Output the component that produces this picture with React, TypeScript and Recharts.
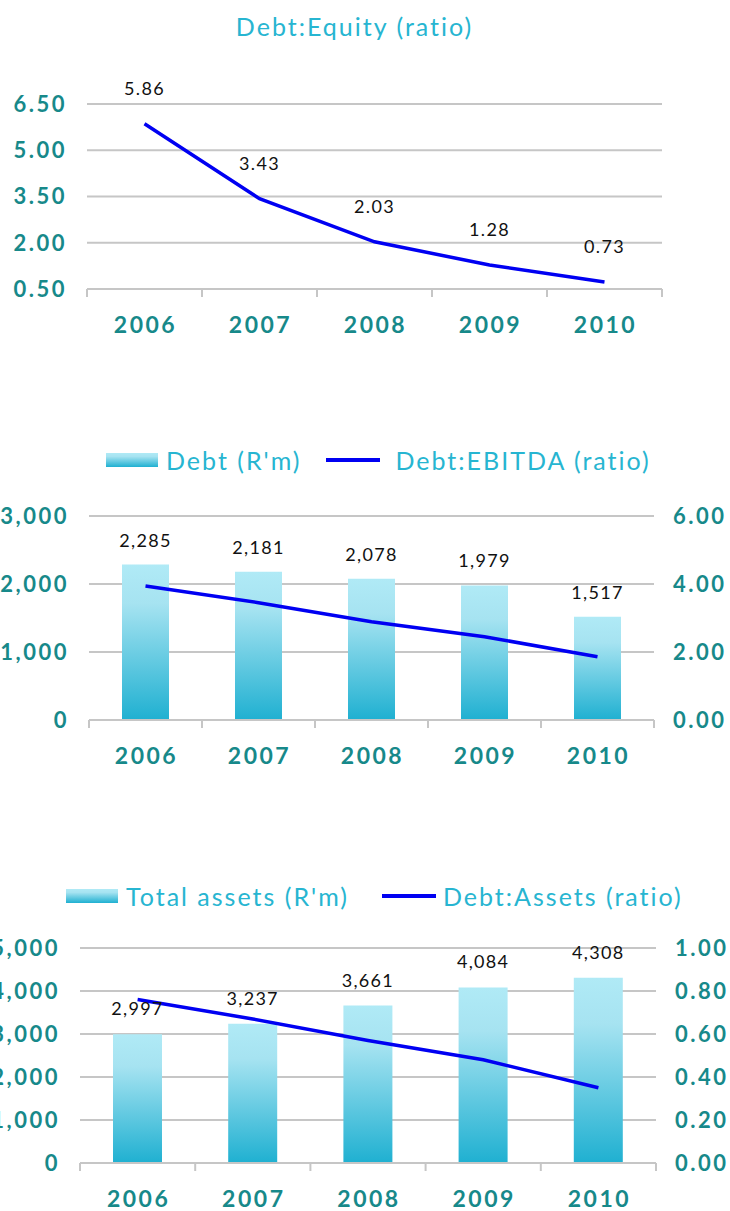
import React from 'react';
import {
  ComposedChart,
  Line,
  Bar,
  XAxis,
  YAxis,
  CartesianGrid,
  Legend,
  LabelList,
} from 'recharts';

// Data
const years = ['2006', '2007', '2008', '2009', '2010'];
const debtEquity = [5.86, 3.43, 2.03, 1.28, 0.73];
const debt = [2285, 2181, 2078, 1979, 1517];
const debtEbitda = [3.94, 3.45, 2.89, 2.45, 1.86];
const totalAssets = [2997, 3237, 3661, 4084, 4308];
const debtAssets = [0.76, 0.67, 0.57, 0.48, 0.35];

const equityTicks = [0.5, 2, 3.5, 5, 6.5];
const debtTicks = [0, 1000, 2000, 3000];
const ebitdaTicks = [0, 2, 4, 6];
const assetTicks = [0, 1000, 2000, 3000, 4000, 5000];
const ratioTicks = [0, 0.2, 0.4, 0.6, 0.8, 1];

const W = 730;
const TEAL = '#17898a';
const CYAN = '#27b5d1';
const GRID = '#c6c6c6';
const BLUE = '#0000f2';
const FONT = 'Lato, "Open Sans", sans-serif';

const chart1Data = years.map((year, i) => ({ year, ratio: debtEquity[i] }));
const chart2Data = years.map((year, i) => ({ year, debt: debt[i], ratio: debtEbitda[i] }));
const chart3Data = years.map((year, i) => ({ year, assets: totalAssets[i], ratio: debtAssets[i] }));

const fmtInt = (v: number) => v.toLocaleString('en-US');
const fmt2 = (v: number) => Number(v).toFixed(2);

const yTick = { fill: TEAL, fontSize: 22, fontWeight: 700, fontFamily: FONT, letterSpacing: 2.5 };
const labelStyle = { fill: '#111', fontSize: 18, fontFamily: FONT, letterSpacing: 1.3 };

// x-axis tick: year label plus tick marks at the category boundaries
function makeYearTick(halfBand: number) {
  return function YearTick(props: any) {
    const { x, y, payload } = props;
    const isLast = payload.value === years[years.length - 1];
    return (
      <g>
        <line x1={x - halfBand} x2={x - halfBand} y1={y} y2={y + 8} stroke={GRID} strokeWidth={2} />
        {isLast && (
          <line x1={x + halfBand} x2={x + halfBand} y1={y} y2={y + 8} stroke={GRID} strokeWidth={2} />
        )}
        <text
          x={x + 1}
          y={y + 44}
          textAnchor="middle"
          fill={TEAL}
          fontSize={23}
          fontWeight={700}
          fontFamily={FONT}
          letterSpacing={2.5}
        >
          {payload.value}
        </text>
      </g>
    );
  };
}

const barGradient = 'linear-gradient(#b0eaf6 0%, #a6e3f1 25%, #1fb0d1 100%)';

function LegendRow({ payload, left, itemGap, lineGap }: any) {
  // bars first, then the line, as in the reference
  const items = [...(payload || [])].sort(
    (a: any, b: any) => (a.type === 'line' ? 1 : 0) - (b.type === 'line' ? 1 : 0)
  );
  return (
    <div style={{ display: 'flex', alignItems: 'center', paddingLeft: left, fontFamily: FONT }}>
      {items.map((entry: any, i: number) => (
        <div key={i} style={{ display: 'flex', alignItems: 'center', marginRight: itemGap }}>
          {entry.type === 'line' ? (
            <div style={{ width: 54, height: 4, background: BLUE, marginRight: lineGap }} />
          ) : (
            <div style={{ width: 52, height: 14, background: barGradient, marginRight: 8 }} />
          )}
          <span style={{ color: CYAN, fontSize: 25, letterSpacing: 2 }}>{entry.value}</span>
        </div>
      ))}
    </div>
  );
}

function GradientDefs({ id }: { id: string }) {
  return (
    <defs>
      <linearGradient id={id} x1="0" y1="0" x2="0" y2="1">
        <stop offset="0%" stopColor="#b0eaf6" />
        <stop offset="25%" stopColor="#a6e3f1" />
        <stop offset="100%" stopColor="#1fb0d1" />
      </linearGradient>
    </defs>
  );
}

function DebtEquityChart() {
  const left = 87;
  const right = 68;
  const half = (W - left - right) / years.length / 2;
  return (
    <div style={{ position: 'absolute', top: 0, left: 0 }}>
      <div
        style={{
          position: 'absolute',
          top: 11,
          left: 0,
          width: 709,
          textAlign: 'center',
          color: CYAN,
          fontFamily: FONT,
          fontSize: 25,
          letterSpacing: 2,
          zIndex: 1,
        }}
      >
        Debt:Equity (ratio)
      </div>
      <ComposedChart width={W} height={345} data={chart1Data} margin={{ top: 104, right, bottom: 0, left: 0 }}>
        <CartesianGrid vertical={false} stroke={GRID} strokeWidth={2} />
        <XAxis
          dataKey="year"
          scale="band"
          height={56}
          tickSize={0}
          tickMargin={0}
          axisLine={{ stroke: GRID, strokeWidth: 2 }}
          tick={makeYearTick(half)}
          interval={0}
        />
        <YAxis
          width={left}
          domain={[0.5, 6.5]}
          ticks={equityTicks}
          tickFormatter={fmt2}
          axisLine={false}
          tickLine={false}
          tickSize={0}
          tickMargin={20}
          tick={yTick}
        />
        <Line
          type="linear"
          dataKey="ratio"
          stroke={BLUE}
          strokeWidth={3.5}
          dot={false}
          isAnimationActive={false}
        >
          <LabelList dataKey="ratio" position="top" offset={29} formatter={fmt2} style={labelStyle} />
        </Line>
      </ComposedChart>
    </div>
  );
}

function DebtEbitdaChart() {
  const left = 89;
  const right = 76;
  const half = (W - left - right) / years.length / 2;
  return (
    <div style={{ position: 'absolute', top: 400, left: 0 }}>
      <ComposedChart width={W} height={380} data={chart2Data} margin={{ top: 116, right: 0, bottom: 0, left: 0 }}>
        <GradientDefs id="debtFill" />
        <CartesianGrid vertical={false} yAxisId="left" stroke={GRID} strokeWidth={2} />
        <XAxis
          dataKey="year"
          height={60}
          tickSize={0}
          tickMargin={0}
          axisLine={{ stroke: GRID, strokeWidth: 2 }}
          tick={makeYearTick(half)}
          interval={0}
        />
        <YAxis
          yAxisId="left"
          width={left}
          domain={[0, 3000]}
          ticks={debtTicks}
          tickFormatter={fmtInt}
          axisLine={false}
          tickLine={false}
          tickSize={0}
          tickMargin={20}
          tick={yTick}
        />
        <YAxis
          yAxisId="right"
          orientation="right"
          width={right}
          domain={[0, 6]}
          ticks={ebitdaTicks}
          tickFormatter={fmt2}
          axisLine={false}
          tickLine={false}
          tickSize={0}
          tickMargin={19}
          tick={yTick}
        />
        <Legend
          layout="horizontal"
          verticalAlign="middle"
          align="center"
          wrapperStyle={{ top: 45, left: 0, width: W }}
          content={(p: any) => <LegendRow payload={p.payload} left={106} itemGap={25} lineGap={15} />}
        />
        <Bar
          yAxisId="left"
          dataKey="debt"
          name="Debt (R'm)"
          fill="url(#debtFill)"
          barSize={47}
          isAnimationActive={false}
        >
          <LabelList dataKey="debt" position="top" offset={18} formatter={fmtInt} style={labelStyle} />
        </Bar>
        <Line
          yAxisId="right"
          type="linear"
          dataKey="ratio"
          name="Debt:EBITDA (ratio)"
          stroke={BLUE}
          strokeWidth={3.5}
          dot={false}
          isAnimationActive={false}
        />
      </ComposedChart>
    </div>
  );
}

function DebtAssetsChart() {
  const left = 80;
  const right = 74;
  const half = (W - left - right) / years.length / 2;
  return (
    <div style={{ position: 'absolute', top: 850, left: 0 }}>
      <ComposedChart width={W} height={361} data={chart3Data} margin={{ top: 98, right: 0, bottom: 0, left: 0 }}>
        <GradientDefs id="assetsFill" />
        <CartesianGrid vertical={false} yAxisId="left" stroke={GRID} strokeWidth={2} />
        <XAxis
          dataKey="year"
          height={48}
          tickSize={0}
          tickMargin={0}
          axisLine={{ stroke: GRID, strokeWidth: 2 }}
          tick={makeYearTick(half)}
          interval={0}
        />
        <YAxis
          yAxisId="left"
          width={left}
          domain={[0, 5000]}
          ticks={assetTicks}
          tickFormatter={fmtInt}
          axisLine={false}
          tickLine={false}
          tickSize={0}
          tickMargin={20}
          tick={yTick}
        />
        <YAxis
          yAxisId="right"
          orientation="right"
          width={right}
          domain={[0, 1]}
          ticks={ratioTicks}
          tickFormatter={fmt2}
          axisLine={false}
          tickLine={false}
          tickSize={0}
          tickMargin={19}
          tick={yTick}
        />
        <Legend
          layout="horizontal"
          verticalAlign="middle"
          align="center"
          wrapperStyle={{ top: 31, left: 0, width: W }}
          content={(p: any) => <LegendRow payload={p.payload} left={66} itemGap={33} lineGap={7} />}
        />
        <Bar
          yAxisId="left"
          dataKey="assets"
          name="Total assets (R'm)"
          fill="url(#assetsFill)"
          barSize={49}
          isAnimationActive={false}
        >
          <LabelList dataKey="assets" position="top" offset={19} formatter={fmtInt} style={labelStyle} />
        </Bar>
        <Line
          yAxisId="right"
          type="linear"
          dataKey="ratio"
          name="Debt:Assets (ratio)"
          stroke={BLUE}
          strokeWidth={3.5}
          dot={false}
          isAnimationActive={false}
        />
      </ComposedChart>
    </div>
  );
}

export default function App() {
  return (
    <div
      style={{
        position: 'absolute',
        top: 0,
        left: 0,
        width: W,
        height: 1211,
        overflow: 'hidden',
        background: '#fff',
      }}
    >
      <DebtEquityChart />
      <DebtEbitdaChart />
      <DebtAssetsChart />
    </div>
  );
}
